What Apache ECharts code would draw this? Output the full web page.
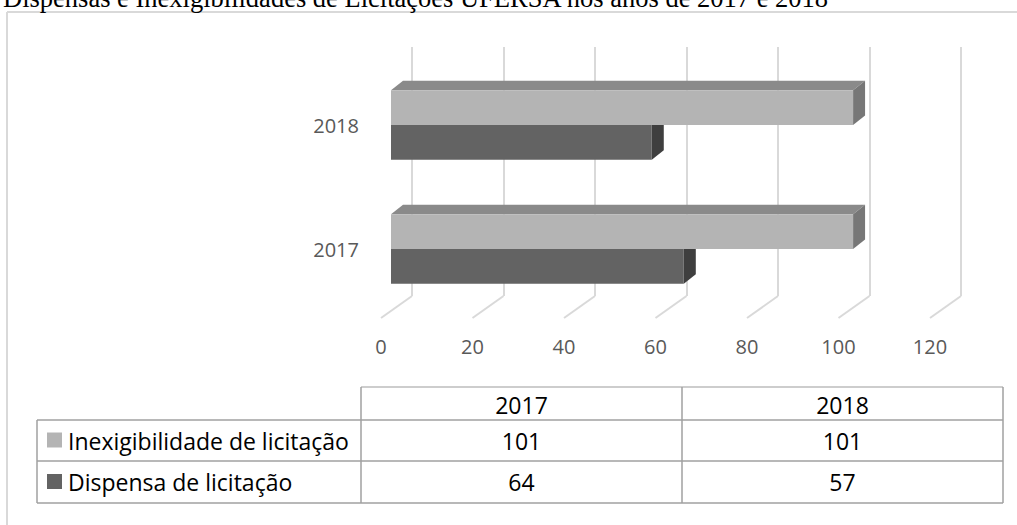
<!DOCTYPE html>
<html>
<head>
<meta charset="utf-8">
<script src="https://cdn.jsdelivr.net/npm/echarts@6/dist/echarts.min.js"></script>
<style>
    html, body { margin: 0; padding: 0; background: #fff; }
    #chart { width: 1017px; height: 525px; }
</style>
</head>
<body>
<div id="chart"></div>
<script>
// dados
const categories = ['2017', '2018'];
const seriesNames = ['Inexigibilidade de licitação', 'Dispensa de licitação'];
const inexigibilidade = [101, 101];
const dispensa = [64, 57];
const xTicks = [0, 20, 40, 60, 80, 100, 120];

const title = 'Dispensas e Inexigibilidades de Licitações UFERSA nos anos de 2017 e 2018';

const labelColor = '#595959';
const gridColor = '#d9d9d9';
const sansFont = '"Open Sans", sans-serif';

// cores: frente, topo, lateral
const barColors = [
    { front: '#b4b4b4', top: '#8a8a8a', side: '#777777' },
    { front: '#636363', top: '#4a4a4a', side: '#3f3f3f' }
];

// profundidade do efeito 3D
const depthX = 12;
const depthY = -9.5;

function render3dBar(seriesIdx) {
    const col = barColors[seriesIdx];
    return function (params, api) {
        const v = api.value(0);
        const c = api.value(1);
        const start = api.coord([0, c]);
        const end = api.coord([v, c]);
        const band = api.size([0, 1])[1];
        const barH = band * 0.28;
        let yTop, yBot;
        if (seriesIdx === 0) {
            yTop = start[1] - barH;
            yBot = start[1];
        } else {
            yTop = start[1];
            yBot = start[1] + barH;
        }
        const x0 = start[0];
        const x1 = end[0];
        return {
            type: 'group',
            children: [
                {
                    type: 'polygon',
                    shape: { points: [[x0, yTop], [x0 + depthX, yTop + depthY], [x1 + depthX, yTop + depthY], [x1, yTop]] },
                    style: { fill: col.top }
                },
                {
                    type: 'polygon',
                    shape: { points: [[x1, yTop], [x1 + depthX, yTop + depthY], [x1 + depthX, yBot + depthY], [x1, yBot]] },
                    style: { fill: col.side }
                },
                {
                    type: 'rect',
                    shape: { x: x0, y: yTop, width: x1 - x0, height: yBot - yTop },
                    style: { fill: col.front }
                }
            ]
        };
    };
}

// linhas do chão (diagonais)
function renderFloor(params, api) {
    const p = api.coord([api.value(0), 0]);
    return {
        type: 'line',
        shape: { x1: p[0], y1: p[1], x2: p[0] - 31, y2: p[1] + 22 },
        style: { stroke: gridColor, lineWidth: 2 }
    };
}

// tabela de dados
function buildTable() {
    const colX = [37, 361, 682, 1003];
    const rowY = [387, 420, 461, 503];
    const lineStyle = { stroke: '#a0a0a0', lineWidth: 1.5 };
    const els = [];
    const hline = (x1, x2, y, st) => els.push({ type: 'line', shape: { x1: x1, y1: y, x2: x2, y2: y }, style: st || lineStyle });
    const vline = (x, y1, y2) => els.push({ type: 'line', shape: { x1: x, y1: y1, x2: x, y2: y2 }, style: lineStyle });

    hline(colX[1], colX[3], rowY[0], { stroke: '#bdbdbd', lineWidth: 1.5 });
    hline(colX[0], colX[3], rowY[1]);
    hline(colX[0], colX[3], rowY[2]);
    hline(colX[0], colX[3], rowY[3]);
    vline(colX[0], rowY[1], rowY[3]);
    vline(colX[1], rowY[0], rowY[3]);
    vline(colX[2], rowY[0], rowY[3]);
    vline(colX[3], rowY[0], rowY[3]);

    const txt = (x, y, text, align) => els.push({
        type: 'text',
        x: x, y: y,
        style: { text: text, fill: '#000', font: '23px ' + sansFont, align: align, verticalAlign: 'middle' }
    });

    categories.forEach((cat, i) => {
        txt((colX[i + 1] + colX[i + 2]) / 2, (rowY[0] + rowY[1]) / 2 + 1, cat, 'center');
    });

    const rows = [inexigibilidade, dispensa];
    rows.forEach((vals, r) => {
        const yc = (rowY[r + 1] + rowY[r + 2]) / 2;
        els.push({
            type: 'rect',
            shape: { x: 47, y: yc - 8, width: 15, height: 15 },
            style: { fill: barColors[r].front }
        });
        txt(68, yc, seriesNames[r], 'left');
        vals.forEach((v, i) => {
            txt((colX[i + 1] + colX[i + 2]) / 2, yc, String(v), 'center');
        });
    });
    return els;
}

const chart = echarts.init(document.getElementById('chart'), null, { renderer: 'svg' });

const option = {
    backgroundColor: '#fff',
    animation: false,
    grid: [
        { left: 391, top: 63, width: 549, height: 248 },
        { left: 412, top: 47, width: 549, height: 249 },
        { left: 381, top: 317, width: 549, height: 1 }
    ],
    xAxis: [
        { gridIndex: 0, type: 'value', min: 0, max: 120, show: false },
        {
            gridIndex: 1, type: 'value', min: 0, max: 120, interval: 20,
            axisLine: { show: false }, axisTick: { show: false }, axisLabel: { show: false },
            splitLine: { show: true, lineStyle: { color: gridColor, width: 2 } }
        },
        {
            gridIndex: 2, type: 'value', min: 0, max: 120, interval: 20,
            axisLine: { show: false }, axisTick: { show: false }, splitLine: { show: false },
            axisLabel: { color: labelColor, fontSize: 20, fontFamily: sansFont, margin: 18 }
        }
    ],
    yAxis: [
        {
            gridIndex: 0, type: 'category', data: categories,
            axisLine: { show: false }, axisTick: { show: false },
            axisLabel: { color: labelColor, fontSize: 20, fontFamily: sansFont, margin: 32 }
        },
        { gridIndex: 1, type: 'value', min: 0, max: 1, show: false },
        { gridIndex: 2, type: 'value', min: 0, max: 1, show: false }
    ],
    series: [
        {
            type: 'custom',
            xAxisIndex: 1, yAxisIndex: 1,
            renderItem: renderFloor,
            data: xTicks.map(t => [t]),
            silent: true
        },
        {
            name: seriesNames[1],
            type: 'custom',
            xAxisIndex: 0, yAxisIndex: 0,
            renderItem: render3dBar(1),
            data: dispensa.map((v, i) => [v, i])
        },
        {
            name: seriesNames[0],
            type: 'custom',
            xAxisIndex: 0, yAxisIndex: 0,
            renderItem: render3dBar(0),
            data: inexigibilidade.map((v, i) => [v, i])
        }
    ],
    graphic: [
        { type: 'line', shape: { x1: 7, y1: 12, x2: 1017, y2: 12 }, style: { stroke: gridColor, lineWidth: 2 } },
        { type: 'line', shape: { x1: 7, y1: 12, x2: 7, y2: 525 }, style: { stroke: gridColor, lineWidth: 2 } },
        {
            type: 'text', x: 3, y: -2,
            style: { text: title, fill: '#000', font: '26.5px "Liberation Serif", serif', verticalAlign: 'middle' }
        }
    ].concat(buildTable())
};

chart.setOption(option);

window.addEventListener('resize', function () {
    chart.resize();
});
</script>
</body>
</html>
